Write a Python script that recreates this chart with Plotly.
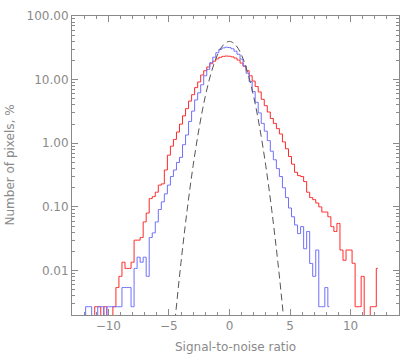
import numpy as np
import plotly.graph_objects as go

# histogram bin centres (width 0.25) in signal-to-noise units
bin_start = -12.0
bin_width = 0.25

# red histogram, % of pixels per bin (0 = empty bin)
red_pct = [
    0, 0, 0, 0, 0.0027, 0.0027, 0, 0.0027, 0, 0,
    0.0027, 0.0054, 0.0081, 0.0135, 0.0108, 0.0108, 0.0135, 0.030, 0.030, 0.033,
    0.058, 0.080, 0.135, 0.145, 0.17, 0.22, 0.23, 0.38, 0.65, 0.90,
    1.15, 1.5, 2.0, 2.7, 3.5, 4.6, 5.8, 7.5, 9.2, 11.8,
    13.8, 15.8, 17.8, 19.5, 21.2, 22.4, 23.2, 23.5, 23.3, 22.8,
    21.8, 20.3, 18.2, 16.2, 13.8, 11.5, 9.5, 7.8, 6.4, 4.9,
    3.9, 3.1, 2.45, 2.05, 1.7, 1.4, 1.05, 0.82, 0.62, 0.47,
    0.35, 0.31, 0.30, 0.25, 0.17, 0.14, 0.13, 0.115, 0.10, 0.083,
    0.083, 0.070, 0.049, 0.041, 0.055, 0.021, 0.0145, 0.021, 0.021, 0.013,
    0.0027, 0.0027, 0.0081, 0, 0, 0.0027, 0.0027, 0.0108,
]

# blue histogram, % of pixels per bin
blue_pct = [
    0, 0.0027, 0.0027, 0, 0, 0.0027, 0.0027, 0, 0.0027, 0.0027,
    0.0027, 0.0027, 0.0027, 0.0054, 0.0054, 0.0054, 0.0027, 0.0108, 0.0162, 0.0135,
    0.0162, 0.0081, 0.033, 0.039, 0.058, 0.091, 0.12, 0.16, 0.22, 0.30,
    0.38, 0.50, 0.60, 0.95, 1.35, 2.2, 3.2, 4.8, 6.2, 8.3,
    11.5, 14.5, 18.5, 22.5, 26.5, 30.0, 31.5, 32.3, 32.0, 30.5,
    28.0, 25.0, 21.0, 16.5, 12.6, 9.3, 6.5, 4.4, 3.0, 2.05,
    1.55, 1.1, 0.75, 0.55, 0.40, 0.30, 0.20, 0.14, 0.096, 0.070,
    0.052, 0.038, 0.049, 0.022, 0.041, 0.0129, 0.0081, 0.021, 0.0027, 0.0027,
    0.0054, 0.0027,
]

# dashed reference curve
ref_x = [-5.0, -4.5, -4.0, -3.5, -3.0, -2.5, -2.0, -1.5, -1.0, -0.5, 0.0,
         0.5, 1.0, 1.5, 2.0, 2.5, 3.0, 3.5, 4.0, 4.5, 5.0]
ref_pct = [0.00015, 0.0016, 0.0134, 0.087, 0.443, 1.75, 5.40, 12.95, 24.2, 35.2, 39.9,
           35.2, 24.2, 12.95, 5.40, 1.75, 0.443, 0.087, 0.0134, 0.0016, 0.00015]

y_tickvals = [0.01, 0.1, 1, 10, 100]
y_ticktext = ["0.01", "0.10", "1.00", "10.00", "100.00"]
y_minor = [m * d for d in [0.001, 0.01, 0.1, 1, 10] for m in range(2, 10)]

FLOOR = 1e-4  # empty bins drawn below the axis


def centres(n):
    return bin_start + bin_width * np.arange(n)


def floored(vals):
    return [v if v > 0 else FLOOR for v in vals]


fig = go.Figure()
fig.add_trace(go.Scatter(x=centres(len(red_pct)), y=floored(red_pct), mode="lines",
                         line=dict(color="#ff2a2a", width=1, shape="hvh")))
fig.add_trace(go.Scatter(x=centres(len(blue_pct)), y=floored(blue_pct), mode="lines",
                         line=dict(color="#6f6fff", width=1, shape="hvh")))
fig.add_trace(go.Scatter(x=ref_x, y=ref_pct, mode="lines",
                         line=dict(color="#555555", width=1, dash="7px,4px", shape="spline")))

axis_col = "#8a8a8a"
font = dict(family="DejaVu Sans", size=12, color=axis_col)

fig.update_xaxes(range=[-13, 14], tickvals=[-10, -5, 0, 5, 10], ticks="inside", ticklen=6,
                 tickcolor=axis_col, showline=True, linecolor=axis_col, linewidth=1, mirror="allticks",
                 showgrid=False, zeroline=False, tickfont=font, automargin=False,
                 minor=dict(dtick=1, ticks="inside", ticklen=3, tickcolor=axis_col, showgrid=False))
fig.update_yaxes(type="log", range=[np.log10(0.002), 2], tickvals=y_tickvals, ticktext=y_ticktext,
                 ticks="inside", ticklen=6, tickcolor=axis_col, showline=True, linecolor=axis_col,
                 linewidth=1, mirror="allticks", showgrid=False, zeroline=False, tickfont=font,
                 automargin=False,
                 minor=dict(tickmode="array", tickvals=y_minor, ticks="inside", ticklen=3,
                            tickcolor=axis_col, showgrid=False))

fig.add_annotation(text="Signal-to-noise ratio", xref="paper", yref="paper", x=0.5, y=0,
                   yshift=-23, showarrow=False, font=font, yanchor="top")
fig.add_annotation(text="Number of pixels, %", xref="paper", yref="paper", x=0, y=0.5,
                   xshift=-63, textangle=-90, showarrow=False, font=font, xanchor="center")

fig.update_layout(width=415, height=356, margin=dict(l=72, r=16, t=16, b=41),
                  plot_bgcolor="white", paper_bgcolor="white", showlegend=False)

fig.write_html("out.html", config={"displayModeBar": False},
               post_script="document.body.style.margin='0px';")
